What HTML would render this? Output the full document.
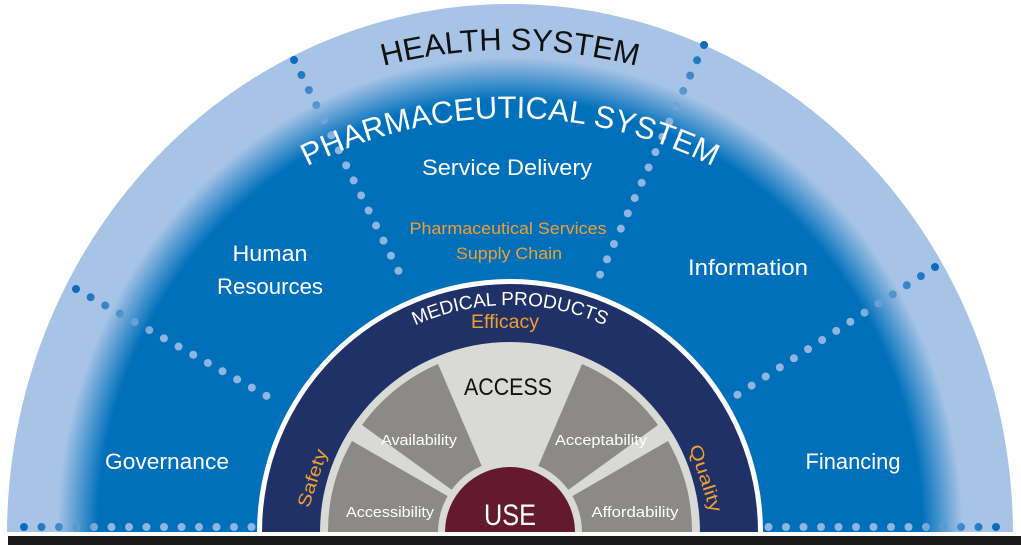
<!DOCTYPE html>
<html><head><meta charset="utf-8"><style>
html,body{margin:0;padding:0;background:#fff;width:1021px;height:545px;overflow:hidden;}
svg{display:block;overflow:hidden;font-family:"Liberation Sans","DejaVu Sans",sans-serif;}
</style></head><body>
<svg width="1021" height="545" viewBox="0 0 1021 545" xmlns="http://www.w3.org/2000/svg">
<defs>
<radialGradient id="bg" cx="50%" cy="50%" r="50%">
<stop offset="0" stop-color="#0070bb"/>
<stop offset="0.82" stop-color="#0070bb"/>
<stop offset="0.9" stop-color="#a7c3e6"/>
<stop offset="1" stop-color="#a7c3e6"/>
</radialGradient>
<linearGradient id="g1" gradientUnits="userSpaceOnUse" x1="76" y1="289" x2="160" y2="336"><stop offset="0" stop-color="#0a6cbc"/><stop offset="1" stop-color="#8fb5e0"/></linearGradient>
<linearGradient id="g2" gradientUnits="userSpaceOnUse" x1="294" y1="60" x2="330" y2="140"><stop offset="0" stop-color="#0a6cbc"/><stop offset="1" stop-color="#8fb5e0"/></linearGradient>
<linearGradient id="g3" gradientUnits="userSpaceOnUse" x1="704" y1="45" x2="668" y2="125"><stop offset="0" stop-color="#0a6cbc"/><stop offset="1" stop-color="#8fb5e0"/></linearGradient>
<linearGradient id="g4" gradientUnits="userSpaceOnUse" x1="935" y1="267" x2="855" y2="320"><stop offset="0" stop-color="#0a6cbc"/><stop offset="1" stop-color="#8fb5e0"/></linearGradient>
<linearGradient id="g5" gradientUnits="userSpaceOnUse" x1="24" y1="0" x2="110" y2="0"><stop offset="0" stop-color="#0a6cbc"/><stop offset="1" stop-color="#8fb5e0"/></linearGradient>
<linearGradient id="g6" gradientUnits="userSpaceOnUse" x1="996" y1="0" x2="910" y2="0"><stop offset="0" stop-color="#0a6cbc"/><stop offset="1" stop-color="#8fb5e0"/></linearGradient>
<path id="hs" d="M 0 560 A 510 510 0 0 1 1020 560"/>
<path id="ps" d="M 60 568 A 450 450 0 0 1 960 568"/>
<path id="mp" d="M 280 535 A 230 230 0 0 1 740 535"/>
</defs>
<ellipse cx="510" cy="535" rx="503" ry="531" fill="url(#bg)"/>
<rect x="0" y="532" width="1021" height="13" fill="#fff"/>
<rect x="8" y="536" width="1013" height="9" fill="#1a1a1a"/>
<g fill="none" stroke-width="8" stroke-linecap="round" stroke-dasharray="0 16.8">
<line x1="76" y1="289" x2="281" y2="404" stroke="url(#g1)"/>
<line x1="294" y1="60" x2="404" y2="282" stroke="url(#g2)"/>
<line x1="704" y1="45" x2="599" y2="277" stroke="url(#g3)"/>
<line x1="935" y1="267" x2="734" y2="397" stroke="url(#g4)"/>
<line x1="24" y1="527" x2="255" y2="527" stroke="url(#g5)" stroke-dasharray="0 17.5"/>
<line x1="996" y1="527" x2="765" y2="527" stroke="url(#g6)" stroke-dasharray="0 17.5"/>
</g>
<path d="M 257 532 A 253 253 0 0 1 763 532 Z" fill="#fff"/>
<path d="M 262 532 A 248 248 0 0 1 758 532 Z" fill="#1f3166"/>
<path d="M 320 532 A 190 190 0 0 1 700 532 Z" fill="#d9d9d6"/>
<g fill="#8b8a86">
<path d="M 510 532 L 328 532 A 182 182 0 0 1 352 441 Z"/>
<path d="M 510 532 L 362 425 A 182 182 0 0 1 438 364 Z"/>
<path d="M 510 532 L 582 364 A 182 182 0 0 1 658 425 Z"/>
<path d="M 510 532 L 668 441 A 182 182 0 0 1 692 532 Z"/>
</g>
<path d="M 438 532 A 72 72 0 0 1 582 532 Z" fill="#d9d9d6"/>
<path d="M 445 532 A 65 65 0 0 1 575 532 Z" fill="#641a2e"/>
<text font-size="31" fill="#111"><textPath href="#hs" startOffset="50%" text-anchor="middle">HEALTH SYSTEM</textPath></text>
<text font-size="31" fill="#fff"><textPath href="#ps" startOffset="50%" text-anchor="middle">PHARMACEUTICAL SYSTEM</textPath></text>
<text font-size="19" fill="#fff"><textPath href="#mp" startOffset="50%" text-anchor="middle">MEDICAL PRODUCTS</textPath></text>
<g text-anchor="middle">
<text x="507" y="175" font-size="22" fill="#fff" textLength="170" lengthAdjust="spacingAndGlyphs">Service Delivery</text>
<text x="508" y="234" font-size="17" fill="#f0a030" textLength="197" lengthAdjust="spacingAndGlyphs">Pharmaceutical Services</text>
<text x="509" y="259" font-size="17" fill="#f0a030" textLength="106" lengthAdjust="spacingAndGlyphs">Supply Chain</text>
<text x="270" y="261" font-size="22" fill="#fff" textLength="75" lengthAdjust="spacingAndGlyphs">Human</text>
<text x="270" y="294" font-size="22" fill="#fff" textLength="106" lengthAdjust="spacingAndGlyphs">Resources</text>
<text x="748" y="275" font-size="22" fill="#fff" textLength="120" lengthAdjust="spacingAndGlyphs">Information</text>
<text x="167" y="469" font-size="22" fill="#fff" textLength="124" lengthAdjust="spacingAndGlyphs">Governance</text>
<text x="853" y="469" font-size="22" fill="#fff" textLength="95" lengthAdjust="spacingAndGlyphs">Financing</text>
<text x="505" y="328" font-size="19" fill="#f0a030" textLength="68" lengthAdjust="spacingAndGlyphs">Efficacy</text>
<text x="508" y="395" font-size="24" fill="#111" textLength="88" lengthAdjust="spacingAndGlyphs">ACCESS</text>
<text x="419" y="445" font-size="15" fill="#fff" textLength="76" lengthAdjust="spacingAndGlyphs">Availability</text>
<text x="601" y="445" font-size="15" fill="#fff" textLength="92" lengthAdjust="spacingAndGlyphs">Acceptability</text>
<text x="390" y="517" font-size="15" fill="#fff" textLength="88" lengthAdjust="spacingAndGlyphs">Accessibility</text>
<text x="635" y="517" font-size="15" fill="#fff" textLength="87" lengthAdjust="spacingAndGlyphs">Affordability</text>
<text x="510" y="525" font-size="30" fill="#fff" textLength="52" lengthAdjust="spacingAndGlyphs">USE</text>
<text x="0" y="0" font-size="18" fill="#f0a030" transform="translate(318,480) rotate(-72)" textLength="60" lengthAdjust="spacingAndGlyphs">Safety</text>
<text x="0" y="0" font-size="18" fill="#f0a030" transform="translate(700,480) rotate(72)" textLength="70" lengthAdjust="spacingAndGlyphs">Quality</text>
</g>
</svg>
</body></html>
